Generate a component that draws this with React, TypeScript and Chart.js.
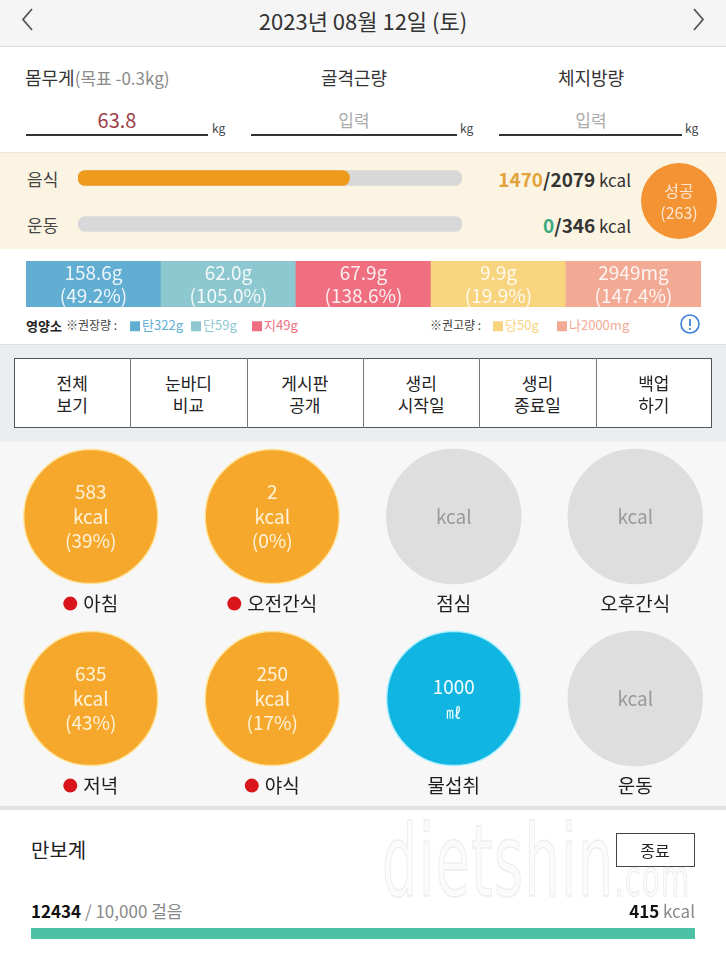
import React, { useEffect, useRef } from 'react';
import { Chart, registerables } from 'chart.js';
Chart.register(...registerables);

const FONT = '"Noto Sans CJK KR", "Noto Sans", sans-serif';

// ---------- data ----------
const dateLabel = '2023년 08월 12일 (토)';
const weightValue = 63.8;
const weightGoalDelta = -0.3;

const energyLabels = ['음식', '운동'];
const energyActual = [1470, 0];
const energyTarget = [2079, 346];
const remainingKcal = 263;

const nutrientShort = ['탄', '단', '지', '당', '나'];
const nutrientValues = [158.6, 62.0, 67.9, 9.9, 2949];
const nutrientUnits = ['g', 'g', 'g', 'g', 'mg'];
const nutrientPct = [49.2, 105.0, 138.6, 19.9, 147.4];
const nutrientRef = [322, 59, 49, 50, 2000];
const nutrientColors = ['#62AED3', '#8DC8D0', '#EF6F80', '#F8D47F', '#F2AA94'];

const menuTop = ['전체', '눈바디', '게시판', '생리', '생리', '백업'];
const menuBottom = ['보기', '비교', '공개', '시작일', '종료일', '하기'];

const slotLabels = ['아침', '오전간식', '점심', '오후간식', '저녁', '야식', '물섭취', '운동'];
const slotValues: (number | null)[] = [583, 2, null, null, 635, 250, 1000, null];
const slotPct: (number | null)[] = [39, 0, null, null, 43, 17, null, null];
const slotKind = ['meal', 'meal', 'meal', 'meal', 'meal', 'meal', 'water', 'exercise'];
const slotCol = [0, 1, 2, 3, 0, 1, 2, 3];
const slotRow = [0, 0, 0, 0, 1, 1, 1, 1];

const steps = 12434;
const stepGoal = 10000;
const stepKcal = 415;

// ---------- helpers ----------
const T = ({ x, y, s = 16, c = '#333', w = 400, a = 'left', children, style = {} }: any) => {
  const tx = a === 'center' ? '-50%' : a === 'right' ? '-100%' : '0';
  return (
    <div
      style={{
        position: 'absolute', left: x, top: y, fontSize: s, color: c, fontWeight: w,
        lineHeight: 1, whiteSpace: 'nowrap', transform: `translate(${tx},-50%)`,
        fontFamily: FONT, ...style,
      }}
    >
      {children}
    </div>
  );
};

function ChartBox({ left, top, width, height, make }: any) {
  const ref = useRef<HTMLCanvasElement | null>(null);
  useEffect(() => {
    const ch = new Chart(ref.current as HTMLCanvasElement, make());
    return () => ch.destroy();
  }, []);
  return (
    <canvas ref={ref} width={width} height={height}
      style={{ position: 'absolute', left, top, width, height }} />
  );
}

const baseOpts = {
  responsive: false,
  animation: false,
  events: [],
  plugins: { legend: { display: false }, tooltip: { enabled: false } },
  layout: { padding: 0, autoPadding: false },
};

// ---------- chart configs ----------
const energyConfig = () => ({
  type: 'bar',
  data: {
    labels: energyLabels,
    datasets: [
      {
        data: energyActual.map((v, i) => (v > 0 ? (v / energyTarget[i]) * 100 : null)),
        backgroundColor: '#EE9A1D',
        borderWidth: 0,
        borderRadius: 8,
        borderSkipped: false,
        grouped: false,
        order: 0,
        barThickness: 15,
      },
      {
        data: energyLabels.map(() => 100),
        backgroundColor: '#D8D8D8',
        borderRadius: 8,
        borderSkipped: false,
        grouped: false,
        order: 1,
        barThickness: 15,
      },
    ],
  },
  options: {
    ...baseOpts,
    indexAxis: 'y',
    scales: {
      x: { display: false, min: 0, max: 100 },
      y: { display: false },
    },
  },
});

const nutrientText = {
  id: 'nutrientText',
  afterDatasetsDraw(chart: any) {
    const ctx = chart.ctx;
    const meta = chart.getDatasetMeta(0);
    ctx.save();
    ctx.fillStyle = 'rgba(255,255,255,0.88)';
    ctx.font = `19px ${FONT}`;
    ctx.textAlign = 'center';
    ctx.textBaseline = 'middle';
    meta.data.forEach((el: any, i: number) => {
      const v = nutrientUnits[i] === 'mg' ? String(nutrientValues[i]) : nutrientValues[i].toFixed(1);
      ctx.fillText(v + nutrientUnits[i], el.x, 12);
      ctx.fillText(`(${nutrientPct[i].toFixed(1)}%)`, el.x, 35);
    });
    ctx.restore();
  },
};

const nutrientConfig = () => ({
  type: 'bar',
  data: {
    labels: nutrientShort,
    datasets: [
      {
        data: nutrientShort.map(() => 1),
        backgroundColor: nutrientColors,
        barPercentage: 1,
        categoryPercentage: 1,
        borderWidth: 0,
      },
    ],
  },
  options: {
    ...baseOpts,
    scales: {
      x: { display: false },
      y: { display: false, min: 0, max: 1 },
    },
  },
  plugins: [nutrientText],
});

const slotColor = (i: number) => {
  if (slotKind[i] === 'water') return '#10B5E1';
  if (slotValues[i] != null) return '#F5A82C';
  return '#DEDEDE';
};
const slotBorder = (i: number) => {
  if (slotKind[i] === 'water') return 'rgba(170,240,255,0.9)';
  if (slotValues[i] != null) return 'rgba(255,226,150,0.9)';
  return '#DEDEDE';
};

const slotText = {
  id: 'slotText',
  afterDatasetsDraw(chart: any) {
    const ctx = chart.ctx;
    const meta = chart.getDatasetMeta(0);
    ctx.save();
    ctx.textBaseline = 'middle';
    meta.data.forEach((el: any, i: number) => {
      const x = el.x;
      const y = el.y;
      const v = slotValues[i];
      ctx.textAlign = 'center';
      ctx.font = `19px ${FONT}`;
      if (slotKind[i] === 'water') {
        ctx.fillStyle = 'rgba(255,255,255,0.95)';
        ctx.fillText(String(v), x, y - 12);
        ctx.font = `15px ${FONT}`;
        ctx.fillText('㎖', x, y + 14);
      } else if (v != null) {
        ctx.fillStyle = 'rgba(255,248,232,0.92)';
        ctx.fillText(String(v), x, y - 25);
        ctx.fillText('kcal', x, y);
        ctx.fillText(`(${slotPct[i]}%)`, x, y + 24);
      } else {
        ctx.fillStyle = '#9A9A9A';
        ctx.fillText('kcal', x, y);
      }
      // label below
      ctx.font = `19px ${FONT}`;
      ctx.fillStyle = '#1E1E1E';
      const ly = y + 87;
      const tw = ctx.measureText(slotLabels[i]).width;
      const hasDot = slotKind[i] === 'meal' && v != null;
      if (hasDot) {
        const total = 14 + 6 + tw;
        const sx = x - total / 2;
        ctx.beginPath();
        ctx.arc(sx + 7, ly, 7, 0, Math.PI * 2);
        ctx.fillStyle = '#D8161B';
        ctx.fill();
        ctx.fillStyle = '#1E1E1E';
        ctx.textAlign = 'left';
        ctx.fillText(slotLabels[i], sx + 20, ly);
      } else {
        ctx.textAlign = 'center';
        ctx.fillText(slotLabels[i], x, ly);
      }
    });
    ctx.restore();
  },
};

const slotConfig = () => ({
  type: 'scatter',
  data: {
    datasets: [
      {
        data: slotCol.map((c, i) => ({ x: c, y: slotRow[i] })),
        pointRadius: 67,
        pointHoverRadius: 67,
        backgroundColor: slotLabels.map((_, i) => slotColor(i)),
        borderColor: slotLabels.map((_, i) => slotBorder(i)),
        borderWidth: 1.5,
        clip: false,
      },
    ],
  },
  options: {
    ...baseOpts,
    scales: {
      x: { type: 'linear', display: false, min: -0.5, max: 3.5 },
      y: { type: 'linear', display: false, min: -0.41, max: 1.59, reverse: true },
    },
  },
  plugins: [slotText],
});

const successConfig = () => ({
  type: 'pie',
  data: {
    labels: ['성공'],
    datasets: [{ data: [remainingKcal], backgroundColor: ['#F39333'], borderWidth: 0 }],
  },
  options: { ...baseOpts },
});

const stepConfig = () => ({
  type: 'bar',
  data: {
    labels: ['걸음'],
    datasets: [
      {
        data: [Math.min(steps, stepGoal)],
        backgroundColor: '#4CC1A6',
        barPercentage: 1,
        categoryPercentage: 1,
        borderWidth: 0,
      },
    ],
  },
  options: {
    ...baseOpts,
    indexAxis: 'y',
    scales: {
      x: { display: false, min: 0, max: stepGoal },
      y: { display: false },
    },
  },
});

// ---------- app ----------
export default function App() {
  const cellW = (712 - 14) / menuTop.length;
  return (
    <div style={{ position: 'absolute', left: 0, top: 0, width: 726, height: 960, overflow: 'hidden', background: '#FFFFFF', fontFamily: FONT }}>
      {/* header */}
      <div style={{ position: 'absolute', left: 0, top: 0, width: 726, height: 46, background: '#F5F5F5', borderBottom: '1px solid #D9D9D9' }} />
      <svg width={726} height={46} style={{ position: 'absolute', left: 0, top: 0 }}>
        <polyline points="32,9 23,19.5 32,30" fill="none" stroke="#555" strokeWidth={1.8} />
        <polyline points="694,9 703,19.5 694,30" fill="none" stroke="#555" strokeWidth={1.8} />
      </svg>
      <T x={363} y={20} s={22} c="#333" a="center">{dateLabel}</T>

      {/* weight row */}
      <T x={25} y={77} s={18} c="#333">몸무게<span style={{ color: '#8A8A8A', fontSize: 17 }}>(목표 {weightGoalDelta}kg)</span></T>
      <T x={354} y={77} s={18} c="#333" a="center">골격근량</T>
      <T x={591} y={77} s={18} c="#333" a="center">체지방량</T>
      <T x={117} y={120} s={20} c="#9C3E47" a="center">{weightValue}</T>
      <T x={354} y={119} s={17} c="#ABABAB" a="center">입력</T>
      <T x={591} y={119} s={17} c="#ABABAB" a="center">입력</T>
      <div style={{ position: 'absolute', left: 26, top: 134, width: 182, height: 1.5, background: '#333' }} />
      <div style={{ position: 'absolute', left: 251, top: 134, width: 206, height: 1.5, background: '#333' }} />
      <div style={{ position: 'absolute', left: 499, top: 134, width: 183, height: 1.5, background: '#333' }} />
      <T x={212} y={128} s={12} c="#444">kg</T>
      <T x={460} y={128} s={12} c="#444">kg</T>
      <T x={685} y={128} s={12} c="#444">kg</T>

      {/* energy section */}
      <div style={{ position: 'absolute', left: 0, top: 152, width: 726, height: 96, background: '#FCF4E2', borderTop: '1px solid #EFE7D6' }} />
      <T x={27} y={178} s={17} c="#444">{energyLabels[0]}</T>
      <T x={27} y={224} s={17} c="#444">{energyLabels[1]}</T>
      <ChartBox left={78} top={155} width={384} height={92} make={energyConfig} />
      <T x={631} y={178} s={19} c="#333" w={700} a="right">
        <span style={{ color: '#E2A43A' }}>{energyActual[0]}</span>/{energyTarget[0]}<span style={{ fontSize: 17, fontWeight: 400 }}> kcal</span>
      </T>
      <T x={631} y={224} s={19} c="#333" w={700} a="right">
        <span style={{ color: '#3BA97E' }}>{energyActual[1]}</span>/{energyTarget[1]}<span style={{ fontSize: 17, fontWeight: 400 }}> kcal</span>
      </T>
      <ChartBox left={641} top={163} width={76} height={76} make={successConfig} />
      <T x={679} y={190} s={16} c="rgba(255,255,255,0.78)" a="center">성공</T>
      <T x={679} y={212} s={16} c="rgba(255,255,255,0.78)" a="center">({remainingKcal})</T>

      {/* nutrient section */}
      <ChartBox left={26} top={261} width={675} height={46} make={nutrientConfig} />
      <T x={26} y={325} s={13} c="#222" w={700}>영양소</T>
      <T x={66} y={325} s={12} c="#444">※권장량 :</T>
      {[0, 1, 2].map((i) => (
        <T key={i} x={130 + i * 61} y={325} s={13} c={nutrientColors[i]}>
          <span style={{ display: 'inline-block', width: 10, height: 10, background: nutrientColors[i], marginRight: 2, verticalAlign: 'middle' }} />
          {nutrientShort[i]}{nutrientRef[i]}g
        </T>
      ))}
      <T x={430} y={325} s={12} c="#444">※권고량 :</T>
      <T x={493} y={325} s={13} c={nutrientColors[3]}>
        <span style={{ display: 'inline-block', width: 10, height: 10, background: nutrientColors[3], marginRight: 2, verticalAlign: 'middle' }} />
        {nutrientShort[3]}{nutrientRef[3]}g
      </T>
      <T x={557} y={325} s={13} c={nutrientColors[4]}>
        <span style={{ display: 'inline-block', width: 10, height: 10, background: nutrientColors[4], marginRight: 2, verticalAlign: 'middle' }} />
        {nutrientShort[4]}{nutrientRef[4]}mg
      </T>
      <svg width={22} height={22} style={{ position: 'absolute', left: 679, top: 313 }}>
        <circle cx={11} cy={11} r={9} fill="none" stroke="#3A7FD9" strokeWidth={1.6} />
        <line x1={11} y1={6} x2={11} y2={13} stroke="#3A7FD9" strokeWidth={1.8} />
        <circle cx={11} cy={16} r={1.1} fill="#3A7FD9" />
      </svg>

      {/* menu section */}
      <div style={{ position: 'absolute', left: 0, top: 344, width: 726, height: 98, background: '#EBEEF1', borderTop: '1px solid #DDE0E3' }} />
      <div style={{ position: 'absolute', left: 14, top: 358, width: 698, height: 70, background: '#FFFFFF', border: '1px solid #555', boxSizing: 'border-box' }} />
      {menuTop.map((t, i) => (
        <React.Fragment key={i}>
          {i > 0 && <div style={{ position: 'absolute', left: 14 + cellW * i, top: 358, width: 1, height: 70, background: '#777' }} />}
          <T x={14 + cellW * (i + 0.5)} y={382} s={17} c="#222" a="center">{t}</T>
          <T x={14 + cellW * (i + 0.5)} y={404} s={17} c="#222" a="center">{menuBottom[i]}</T>
        </React.Fragment>
      ))}

      {/* meal circles */}
      <div style={{ position: 'absolute', left: 0, top: 442, width: 726, height: 364, background: '#F7F7F7' }} />
      <ChartBox left={0} top={442} width={726} height={364} make={slotConfig} />
      <div style={{ position: 'absolute', left: 0, top: 806, width: 726, height: 4, background: '#E3E3E3' }} />

      {/* pedometer */}
      <div style={{ position: 'absolute', left: 382, top: 812, fontFamily: '"DejaVu Sans Condensed", sans-serif', fontSize: 100, lineHeight: 1, color: 'rgba(0,0,0,0.015)', WebkitTextStroke: '1.5px rgba(0,0,0,0.07)', transform: 'scaleX(0.62)', transformOrigin: 'left top', whiteSpace: 'nowrap', letterSpacing: 2 }}>
        dietshin<span style={{ fontSize: 52 }}>.com</span>
      </div>
      <T x={31} y={850} s={20} c="#222">만보계</T>
      <div style={{ position: 'absolute', left: 616, top: 833, width: 79, height: 34, border: '1px solid #444', boxSizing: 'border-box', background: 'rgba(255,255,255,0.6)' }} />
      <T x={655} y={850} s={16} c="#222" a="center">종료</T>
      <T x={31} y={910} s={17} c="#888">
        <b style={{ color: '#111' }}>{steps}</b> / {stepGoal.toLocaleString('en-US')} 걸음
      </T>
      <T x={695} y={910} s={17} c="#888" a="right">
        <b style={{ color: '#111' }}>{stepKcal}</b> kcal
      </T>
      <ChartBox left={31} top={928} width={664} height={11} make={stepConfig} />
    </div>
  );
}
